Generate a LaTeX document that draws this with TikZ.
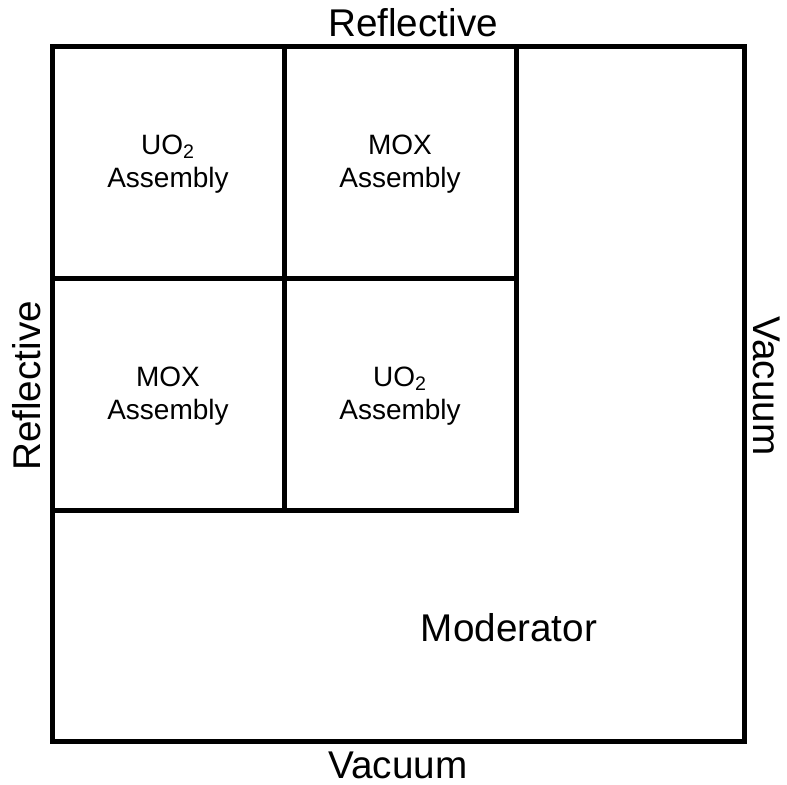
\documentclass[tikz,border=0pt]{standalone}
\usepackage{fontspec}
\setmainfont{Liberation Sans}
\begin{document}
\begin{tikzpicture}[x=0.75pt,y=-0.75pt,
  wall/.style={line width=3.75pt},
  big/.style={font=\fontsize{29}{34}\selectfont, inner sep=0pt},
  cell/.style={font=\fontsize{21}{25}\selectfont, align=center, inner sep=0pt}]
\useasboundingbox (0,0) rectangle (787,784);
\coordinate (tl) at (52,47);
\coordinate (br) at (744,741);
\draw[wall] (tl) rectangle (br);
\draw[wall] (284,47) -- (284,510);
\draw[wall] (516,47) -- (516,510) -- (52,510);
\draw[wall] (52,278) -- (516,278);
\node[big] (top) at (413,23) {Reflective};
\node[big] (bot) at (398,765) {Vacuum};
\node[big, rotate=90] (left) at (27,386) {Reflective};
\node[big, rotate=-90] (right) at (767,386) {Vacuum};
\node[big] (mod) at (509,628) {Moderator};
\node[cell] (a1) at (168,164) {UO\textsubscript{2}\\Assembly};
\node[cell] (a2) at (400,164) {MOX\\Assembly};
\node[cell] (a3) at (168,396) {MOX\\Assembly};
\node[cell] (a4) at (400,396) {UO\textsubscript{2}\\Assembly};
\end{tikzpicture}
\end{document}
